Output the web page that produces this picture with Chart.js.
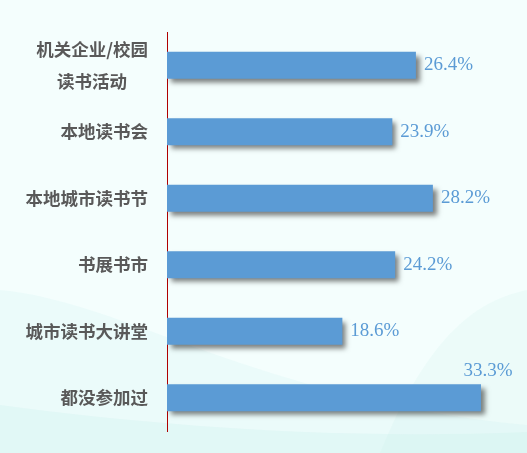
<!DOCTYPE html>
<html>
<head>
<meta charset="utf-8">
<script src="https://cdn.jsdelivr.net/npm/chart.js@4.4.1/dist/chart.umd.min.js"></script>
<style>
html,body{margin:0;padding:0;background:#f4fefd;overflow:hidden;}
#wrap{width:527px;height:453px;position:relative;}
</style>
</head>
<body>
<div id="wrap"><canvas id="c" width="527" height="453"></canvas></div>
<script>
const categories = [["机关企业/校园","读书活动"],["本地读书会"],["本地城市读书节"],["书展书市"],["城市读书大讲堂"],["都没参加过"]];
const values = [26.4, 23.9, 28.2, 24.2, 18.6, 33.3];
const xMax = 35;

const bgPlugin = {
  id: 'bg',
  beforeDraw(chart) {
    const ctx = chart.ctx, w = chart.width, h = chart.height;
    ctx.save();
    ctx.fillStyle = '#f4fefd';
    ctx.fillRect(0, 0, w, h);
    ctx.fillStyle = 'rgba(190,238,232,0.15)';
    ctx.beginPath();
    ctx.moveTo(0, 290);
    ctx.bezierCurveTo(120, 300, 260, 400, 527, 425);
    ctx.lineTo(527, 453); ctx.lineTo(0, 453); ctx.closePath();
    ctx.fill();
    ctx.fillStyle = 'rgba(190,238,232,0.22)';
    ctx.beginPath();
    ctx.moveTo(0, 405);
    ctx.bezierCurveTo(150, 425, 330, 440, 527, 432);
    ctx.lineTo(527, 453); ctx.lineTo(0, 453); ctx.closePath();
    ctx.fill();
    ctx.fillStyle = 'rgba(200,240,235,0.18)';
    ctx.beginPath();
    ctx.moveTo(380, 453);
    ctx.bezierCurveTo(430, 330, 480, 300, 527, 290);
    ctx.lineTo(527, 453); ctx.closePath();
    ctx.fill();
    ctx.restore();
  }
};

const shadowPlugin = {
  id: 'shadow',
  beforeDatasetsDraw(chart) {
    const ctx = chart.ctx;
    ctx.save();
    ctx.shadowColor = 'rgba(0,0,0,0.5)';
    ctx.shadowBlur = 5;
    ctx.shadowOffsetX = 4;
    ctx.shadowOffsetY = 4;
  },
  afterDatasetsDraw(chart) {
    chart.ctx.restore();
  }
};

const labelsPlugin = {
  id: 'lbls',
  afterDraw(chart) {
    const ctx = chart.ctx;
    const ys = chart.scales.y;
    const meta = chart.getDatasetMeta(0);
    ctx.save();
    ctx.font = 'bold 17.5px "Noto Sans CJK SC"';
    ctx.fillStyle = '#595959';
    ctx.textBaseline = 'middle';
    ctx.textAlign = 'center';
    const rightX = chart.chartArea.left - 19;
    categories.forEach((lines, i) => {
      const cy = ys.getPixelForTick(i);
      const widest = Math.max(...lines.map(l => ctx.measureText(l).width));
      const cx = rightX - widest / 2;
      const lh = 32;
      const startY = cy - (lines.length - 1) * lh / 2;
      lines.forEach((l, j) => ctx.fillText(l, cx, startY + j * lh));
    });
    ctx.font = '19px "Liberation Serif"';
    ctx.fillStyle = '#5b9bd5';
    meta.data.forEach((bar, i) => {
      const txt = values[i].toFixed(1) + '%';
      const tw = ctx.measureText(txt).width;
      const bx = bar.x, by = bar.y;
      if (bx + 8 + tw > chart.width - 2) {
        ctx.textAlign = 'center';
        ctx.fillText(txt, bx + 7, by - bar.height / 2 - 13);
      } else {
        ctx.textAlign = 'left';
        ctx.fillText(txt, bx + 8, by);
      }
    });
    ctx.restore();
  }
};

new Chart(document.getElementById('c'), {
  type: 'bar',
  data: {
    labels: categories,
    datasets: [{
      data: values,
      backgroundColor: '#5b9bd5',
      borderWidth: 0,
      barPercentage: 0.9,
      categoryPercentage: 0.45
    }]
  },
  options: {
    indexAxis: 'y',
    responsive: false,
    animation: false,
    devicePixelRatio: 1,
    layout: { padding: { left: 0, right: 30, top: 32, bottom: 22 } },
    plugins: { legend: { display: false }, tooltip: { enabled: false } },
    scales: {
      x: { display: false, min: 0, max: xMax },
      y: {
        grid: { display: false, drawTicks: false },
        ticks: { display: false },
        border: { display: true, color: '#b00000', width: 1 },
        afterFit(s) { s.width = 167; }
      }
    }
  },
  plugins: [bgPlugin, shadowPlugin, labelsPlugin]
});
</script>
</body>
</html>
